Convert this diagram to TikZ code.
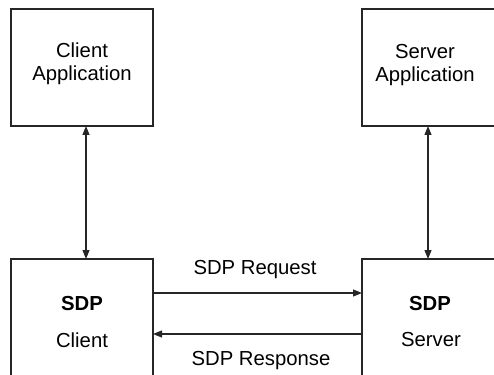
\documentclass[tikz,border=0pt]{standalone}
\usepackage{fontspec}
\setmainfont{Liberation Sans}
\usetikzlibrary{arrows.meta}
\begin{document}
\begin{tikzpicture}[x=1pt,y=-1pt,
  box/.style={draw=black!85,line width=1.2pt},
  lbl/.style={font=\fontsize{20.3}{23.5}\selectfont,align=center,inner sep=0pt},
  blbl/.style={lbl,font=\fontsize{20.3}{23.5}\selectfont\bfseries},
  conn/.style={draw=black!85,line width=1.1pt,-{Triangle[length=9pt,width=7pt]}},
  biconn/.style={draw=black!85,line width=1.1pt,{Triangle[length=9pt,width=7pt]}-{Triangle[length=9pt,width=7pt]}}]
\useasboundingbox (0,0) rectangle (494,374);
\clip (0,0) rectangle (494,374);
\fill[white] (0,0) rectangle (494,374);
% boxes
\coordinate (ca1) at (11,9);   \coordinate (ca2) at (153,126);
\coordinate (sa1) at (362,9);  \coordinate (sa2) at (510,126);
\coordinate (sc1) at (11,259); \coordinate (sc2) at (153,390);
\coordinate (ss1) at (362,259);\coordinate (ss2) at (510,390);
\draw[box] (ca1) rectangle (ca2);
\draw[box] (sa1) rectangle (sa2);
\draw[box] (sc1) rectangle (sc2);
\draw[box] (ss1) rectangle (ss2);
% texts
\node[lbl] (catext) at (82,64) {Client\\Application};
\node[lbl] (satext) at (425,65) {Server\\Application};
\node[blbl] (scsdp) at (82,304) {SDP};
\node[lbl] (sccl) at (82,340) {Client};
\node[blbl] (sssdp) at (430,304) {SDP};
\node[lbl] (sssv) at (431,340) {Server};
\node[lbl] (req) at (255,270) {SDP Request};
\node[lbl] (resp) at (261,361) {SDP Response};
% connector anchors
\coordinate (caB) at (86,126);  \coordinate (scT) at (86,259);
\coordinate (saB) at (428,126); \coordinate (ssT) at (428,259);
\coordinate (scR1) at (153,293); \coordinate (ssL1) at (362,293);
\coordinate (scR2) at (153,334); \coordinate (ssL2) at (362,334);
\draw[biconn] (caB) -- (scT);
\draw[biconn] (saB) -- (ssT);
\draw[conn] (scR1) -- (ssL1);
\draw[conn] (ssL2) -- (scR2);
\end{tikzpicture}
\end{document}
